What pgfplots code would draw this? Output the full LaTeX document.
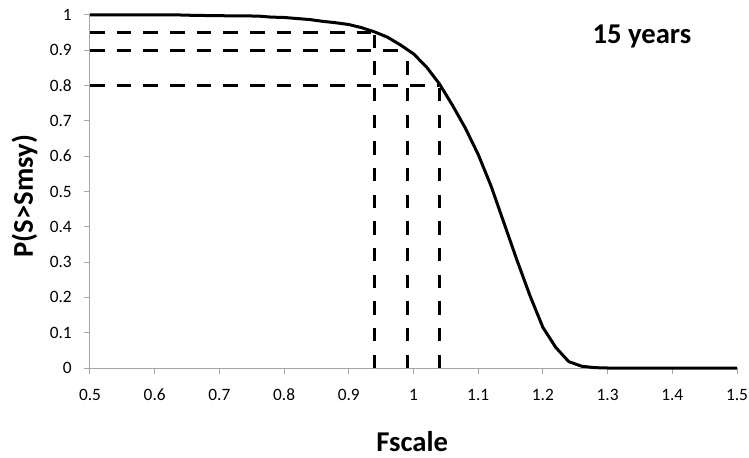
\documentclass[border=0pt]{standalone}
\usepackage{fontspec}
\setmainfont{Carlito}
\usepackage{pgfplots}
\pgfplotsset{compat=1.18}
\pgfplotstableread{
x y
0.50 1
0.60 1
0.64 1
0.66 0.999
0.70 0.998
0.76 0.997
0.78 0.994
0.80 0.993
0.82 0.990
0.84 0.987
0.86 0.982
0.88 0.978
0.90 0.973
0.92 0.964
0.94 0.952
0.96 0.937
0.98 0.915
1.00 0.890
1.02 0.853
1.04 0.805
1.06 0.745
1.08 0.680
1.10 0.605
1.12 0.515
1.14 0.410
1.16 0.305
1.18 0.205
1.20 0.115
1.22 0.058
1.24 0.018
1.26 0.005
1.28 0.001
1.30 0
1.40 0
1.50 0
}\curve
\begin{document}
\begin{tikzpicture}
\useasboundingbox (-67.5pt,-66.75pt) rectangle (494.25pt,276pt);
\begin{axis}[
  at={(0,0)}, anchor=origin,
  scale only axis,
  width=485.25pt, height=264.75pt,
  xmin=0.5, xmax=1.5, ymin=0, ymax=1,
  axis x line*=bottom, axis y line*=left,
  axis line style={draw=black!35, line width=0.75pt, -},
  xtick={0.5,0.6,...,1.5},
  ytick={0,0.1,...,1},
  tick align=outside,
  major tick length=4.5pt,
  tick style={draw=black!35, line width=0.75pt},
  /pgf/number format/assume math mode=true,
  /pgf/number format/fixed,
  /pgf/number format/precision=1,
  ticklabel style={font=\fontsize{13}{15}\selectfont},
  xticklabel style={inner sep=0pt, anchor=base, yshift=-19.5pt},
  yticklabel style={inner sep=0pt, anchor=east, xshift=-9pt},
  xlabel={\textbf{Fscale}},
  ylabel={\textbf{P(S>Smsy)}},
  label style={font=\fontsize{21.5}{25}\selectfont, inner sep=0pt},
  xlabel style={at={(axis description cs:0.498,0)}, anchor=center, yshift=-55.5pt},
  ylabel style={at={(axis description cs:0,0.487)}, anchor=center, yshift=49.1pt},
  clip=false,
]
\addplot[black, line width=2.25pt, dash pattern=on 11pt off 9pt] coordinates {(0.5,0.95) (0.94,0.95)};
\addplot[black, line width=2.25pt, dash pattern=on 11pt off 9pt] coordinates {(0.5,0.9) (0.99,0.9)};
\addplot[black, line width=2.25pt, dash pattern=on 11pt off 9pt] coordinates {(0.5,0.8) (1.04,0.8)};
\addplot[black, line width=2.25pt, dash pattern=on 10pt off 10pt] coordinates {(0.94,0) (0.94,0.95)};
\addplot[black, line width=2.25pt, dash pattern=on 10pt off 10pt] coordinates {(0.99,0) (0.99,0.9)};
\addplot[black, line width=2.25pt, dash pattern=on 10pt off 10pt] coordinates {(1.04,0) (1.04,0.8)};
\addplot[black, line width=2.25pt, line join=round, no marks] table[x=x,y=y] {\curve};
\node[font=\fontsize{21.5}{25}\selectfont\bfseries] at (axis description cs:0.853,0.938) {15 years};
\end{axis}
\end{tikzpicture}
\end{document}
